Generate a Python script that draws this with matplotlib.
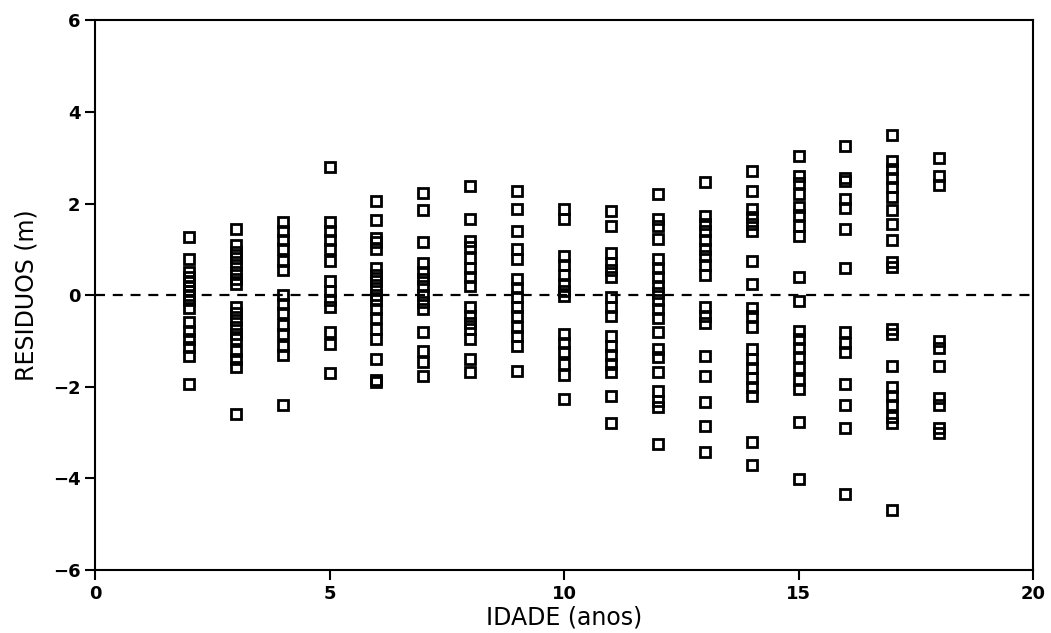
import matplotlib.pyplot as plt

# residuals by age (anos)
ages = [2, 3, 4, 5, 6, 7, 8, 9, 10, 11, 12, 13, 14, 15, 16, 17, 18]
res_2 = [1.27, 0.79, 0.5, 0.4, 0.3, 0.2, 0.1, 0.0, -0.1, -0.27, -0.59, -0.78, -0.96, -1.13, -1.33, -1.94]
res_3 = [1.44, 1.1, 0.95, 0.8, 0.65, 0.5, 0.35, 0.25, -0.25, -0.4, -0.55, -0.7, -0.85, -0.95, -1.22, -1.4, -1.57, -2.6]
res_4 = [1.6, 1.4, 1.2, 1.0, 0.75, 0.55, 0.0, -0.2, -0.4, -0.65, -0.85, -1.1, -1.3, -2.4]
res_5 = [2.8, 1.6, 1.4, 1.2, 1.0, 0.75, 0.3, 0.1, -0.1, -0.25, -0.8, -1.07, -1.7]
res_6 = [2.05, 1.65, 1.25, 1.15, 1.0, 0.6, 0.45, 0.3, 0.15, 0.0, -0.1, -0.3, -0.5, -0.75, -0.95, -1.4, -1.85, -1.9]
res_7 = [2.22, 1.85, 1.15, 0.7, 0.5, 0.35, 0.2, 0.0, -0.15, -0.3, -0.8, -1.22, -1.46, -1.77]
res_8 = [2.38, 1.66, 1.18, 1.05, 0.8, 0.6, 0.4, 0.2, -0.25, -0.45, -0.6, -0.75, -0.95, -1.4, -1.68]
res_9 = [2.27, 1.88, 1.4, 1.0, 0.78, 0.35, 0.15, -0.05, -0.25, -0.45, -0.7, -0.9, -1.1, -1.66]
res_10 = [1.88, 1.66, 0.85, 0.65, 0.45, 0.25, 0.1, -0.02, -0.85, -1.05, -1.25, -1.5, -1.75, -2.27]
res_11 = [1.83, 1.5, 0.93, 0.7, 0.55, 0.4, -0.05, -0.25, -0.45, -0.9, -1.1, -1.3, -1.5, -1.68, -2.2, -2.8]
res_12 = [2.2, 1.66, 1.5, 1.22, 0.78, 0.6, 0.4, 0.2, 0.05, -0.1, -0.3, -0.5, -0.8, -1.18, -1.35, -1.68,
          -2.1, -2.3, -2.45, -3.25]
res_13 = [2.46, 1.72, 1.55, 1.4, 1.2, 1.0, 0.85, 0.65, 0.45, -0.25, -0.45, -0.6, -1.33, -1.77, -2.33, -2.85, -3.43]
res_14 = [2.7, 2.27, 1.88, 1.7, 1.55, 1.4, 0.74, 0.24, -0.27, -0.45, -0.7, -1.18, -1.4, -1.6, -1.8, -2.0, -2.2,
          -3.2, -3.7]
res_15 = [3.03, 2.6, 2.45, 2.2, 1.92, 1.75, 1.5, 1.3, 0.4, -0.13, -0.78, -0.95, -1.15, -1.35, -1.6, -1.85, -2.05,
          -2.77, -4.02]
res_16 = [3.25, 2.55, 2.5, 2.1, 1.9, 1.45, 0.6, -0.8, -1.05, -1.25, -1.95, -2.4, -2.9, -4.35]
res_17 = [3.5, 2.93, 2.75, 2.55, 2.35, 2.15, 1.85, 1.55, 1.2, 0.72, 0.62, -0.75, -0.85, -1.55, -2.0, -2.2, -2.4,
          -2.65, -2.8, -4.7]
res_18 = [3.0, 2.6, 2.4, -1.0, -1.15, -1.55, -2.25, -2.4, -2.9, -3.0]

residuals = [res_2, res_3, res_4, res_5, res_6, res_7, res_8, res_9, res_10,
             res_11, res_12, res_13, res_14, res_15, res_16, res_17, res_18]

xs = []
ys = []
for age, vals in zip(ages, residuals):
    xs += [age] * len(vals)
    ys += vals

fig = plt.figure(figsize=(10.51, 6.33), dpi=100)
ax = fig.add_axes([0.0904, 0.0995, 0.8925, 0.8685])

ax.plot(xs, ys, linestyle='none', marker='s', markersize=7.5,
        markerfacecolor='none', markeredgecolor='black', markeredgewidth=2)
ax.plot([0, 20], [0, 0], linestyle=(0, (4.5, 3.5)), color='black', linewidth=1.6)

ax.set_xlim(0, 20)
ax.set_ylim(-6, 6)
ax.set_xticks([0, 5, 10, 15, 20])
ax.set_yticks([-6, -4, -2, 0, 2, 4, 6])
ax.tick_params(direction='out', length=7, width=1.5, labelsize=13)
for lbl in ax.get_xticklabels() + ax.get_yticklabels():
    lbl.set_fontweight('bold')
for s in ax.spines.values():
    s.set_linewidth(1.5)

ax.set_xlabel('IDADE (anos)', fontsize=17, labelpad=2)
ax.set_ylabel('RESIDUOS (m)', fontsize=17, labelpad=10)

plt.savefig('out.png', dpi=100)
